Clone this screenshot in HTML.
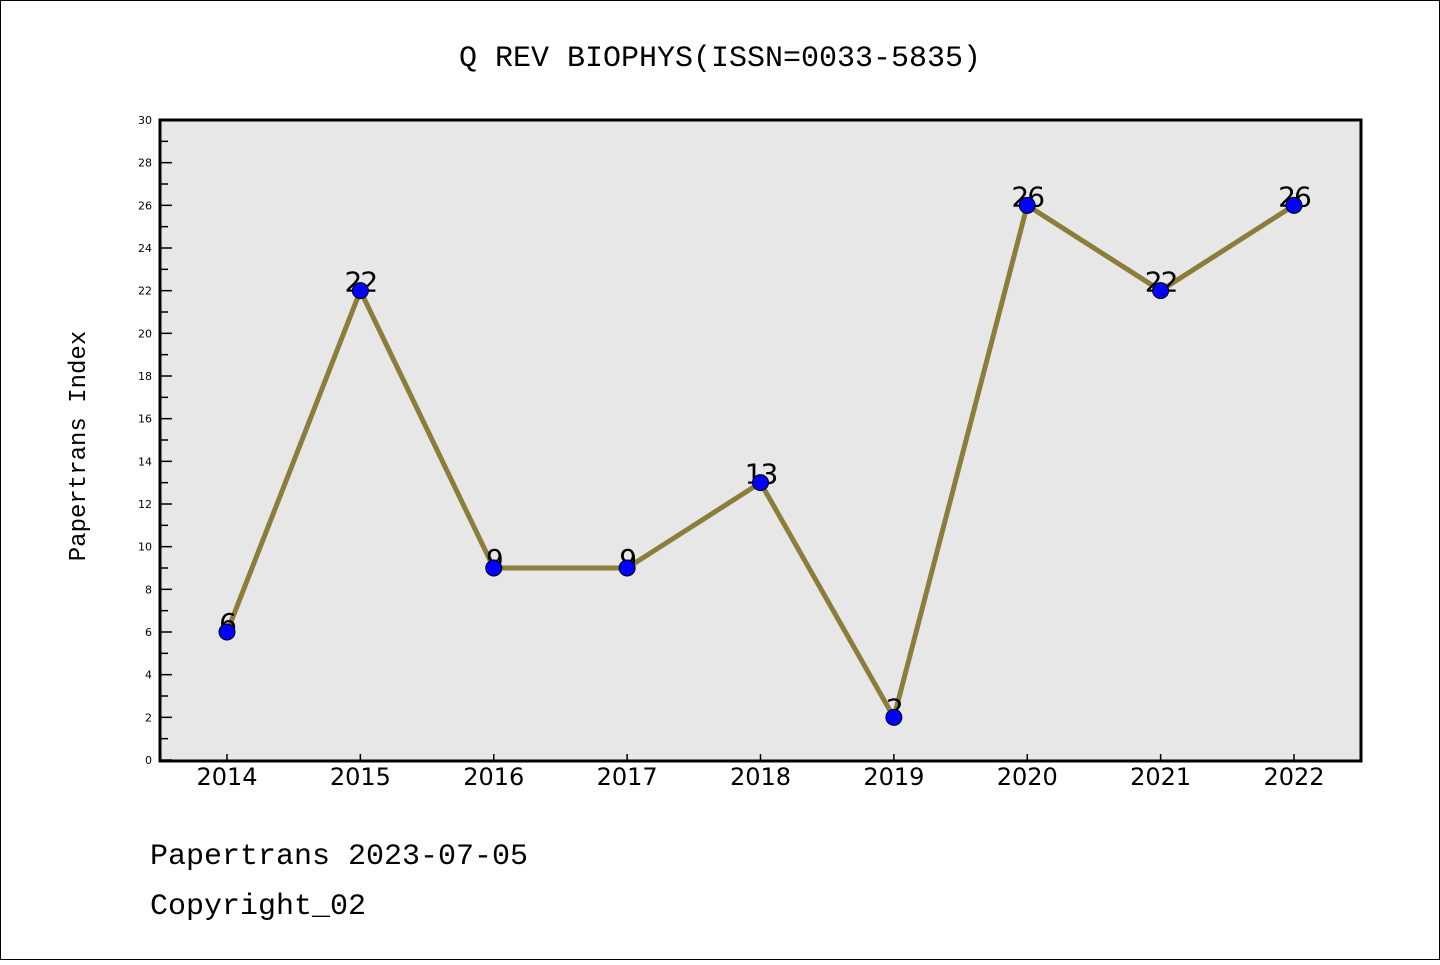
<!DOCTYPE html>
<html><head><meta charset="utf-8"><style>
body{margin:0;background:#fff}
svg text{font-family:"Liberation Mono","DejaVu Sans Mono",monospace}
svg text.sans{font-family:"DejaVu Sans","Liberation Sans",sans-serif}
</style></head><body>
<svg width="1440" height="960" xmlns="http://www.w3.org/2000/svg">
<rect x="0.5" y="0.5" width="1439" height="959" fill="#fff" stroke="#000"/>
<text x="720" y="66" font-size="30" text-anchor="middle">Q REV BIOPHYS(ISSN=0033-5835)</text>
<rect x="160" y="120" width="1201" height="641" fill="#e7e7e7" stroke="#000" stroke-width="3"/>
<text transform="translate(85,446) rotate(-90)" font-size="24" text-anchor="middle">Papertrans Index</text>
<g id="yaxis"></g>
<g id="xaxis"></g>
<g id="series"></g>
<text x="150" y="864" font-size="30">Papertrans 2023-07-05</text>
<text x="150" y="914" font-size="30">Copyright_02</text>
</svg>
<script>
const categories=["2014","2015","2016","2017","2018","2019","2020","2021","2022"];
const values=[6,22,9,9,13,2,26,22,26];
const yTicks=[0,2,4,6,8,10,12,14,16,18,20,22,24,26,28,30];
const NS="http://www.w3.org/2000/svg";
const x0=227,xStep=(1294-227)/8,yBase=760,yTop=120,yMax=30;
const xs=i=>x0+i*xStep;
const ys=v=>yBase-(v/yMax)*(yBase-yTop);
function mk(t,a,p){const e=document.createElementNS(NS,t);for(const k in a)e.setAttribute(k,a[k]);p.appendChild(e);return e;}
const ya=document.getElementById('yaxis');
yTicks.forEach(v=>{
  const l=mk('line',{x1:160,x2:172,y1:ys(v),y2:ys(v),stroke:'#000','stroke-width':1.5},ya);
  
  
  if(v<yMax){const m=mk('line',{x1:160,x2:168,y1:ys(v+1),y2:ys(v+1),stroke:'#000','stroke-width':1.5},ya);
  
  }
  const t=mk('text',{x:152,y:ys(v)+4,'font-size':11,'text-anchor':'end','class':'sans'},ya);
  t.textContent=v;
  
  
});
const xa=document.getElementById('xaxis');
categories.forEach((c,i)=>{
  const l=mk('line',{x1:xs(i),x2:xs(i),y1:760,y2:754,stroke:'#000','stroke-width':1.5},xa);
  
  
  const t=mk('text',{x:xs(i),y:785,'font-size':24,'text-anchor':'middle','class':'sans'},xa);
  t.textContent=c;
  
  
});
const s=document.getElementById('series');
const pl=mk('polyline',{points:values.map((v,i)=>xs(i)+','+ys(v)).join(' '),fill:'none',stroke:'#8b7d3a','stroke-width':5},s);


values.forEach((v,i)=>{
  const t=mk('text',{x:xs(i),y:ys(v)+1,'font-size':28,'text-anchor':'middle','class':'sans','letter-spacing':'-2'},s);
  t.textContent=v;
  
  
});
values.forEach((v,i)=>{
  const c=mk('circle',{cx:xs(i),cy:ys(v),r:8,fill:'#0000ff',stroke:'#000','stroke-width':1},s);
  
  
});
</script>
</body></html>
